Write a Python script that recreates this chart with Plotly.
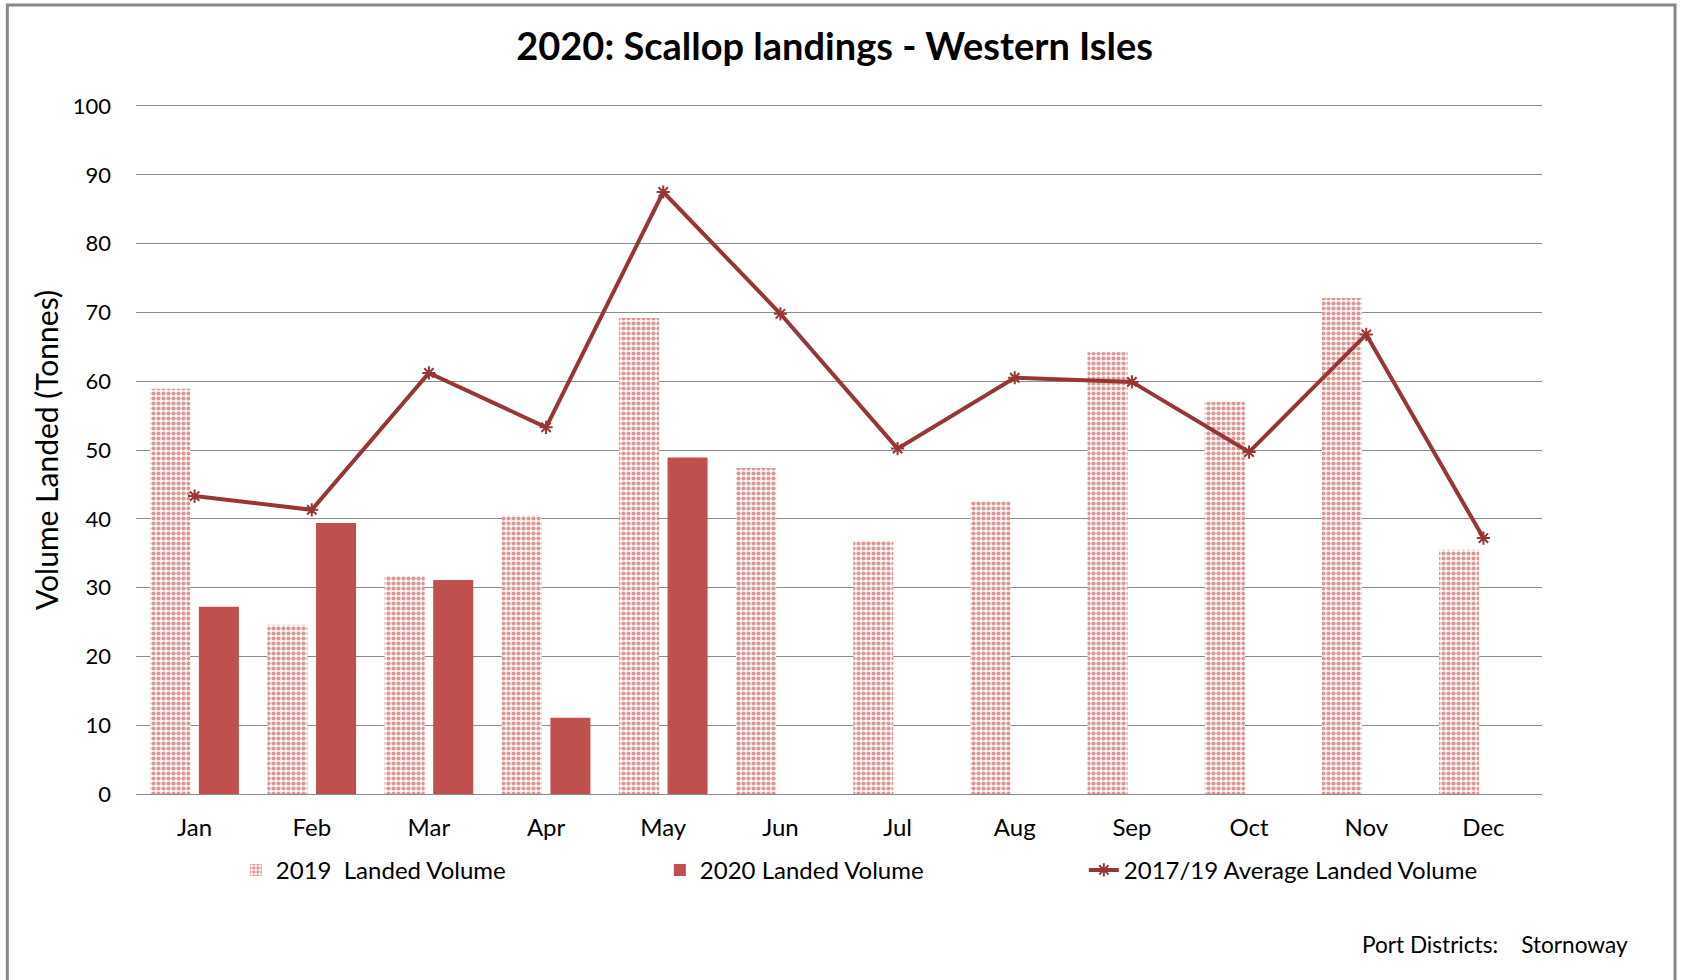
import plotly.graph_objects as go

FONT = "Lato"

months = ["Jan", "Feb", "Mar", "Apr", "May", "Jun",
          "Jul", "Aug", "Sep", "Oct", "Nov", "Dec"]
landed_2019 = [58.9, 24.6, 31.7, 40.5, 69.2, 47.4, 36.8, 42.5, 64.2, 57.0, 72.1, 35.5]
landed_2020 = [27.2, 39.4, 31.1, 11.1, 48.9, None, None, None, None, None, None, None]
avg_2017_19 = [43.3, 41.3, 61.2, 53.3, 87.5, 69.8, 50.2, 60.5, 59.9, 49.7, 66.8, 37.2]

fig = go.Figure()

# 2019 bars, checkered
fig.add_trace(go.Bar(
    x=months, y=landed_2019,
    name="2019  Landed Volume",
    marker=dict(
        color="white",
        line=dict(width=0),
        pattern=dict(shape=".", fgcolor="#DE9492", bgcolor="white",
                     size=5, solidity=0.55, fillmode="replace"),
    ),
))

# 2020 bars
fig.add_trace(go.Bar(
    x=months, y=landed_2020,
    name="2020 Landed Volume",
    marker=dict(color="#C0504D", line=dict(width=0)),
))

# 3-year average line
fig.add_trace(go.Scatter(
    x=months, y=avg_2017_19,
    name="2017/19 Average Landed Volume",
    mode="lines+markers",
    line=dict(color="#973634", width=4),
    marker=dict(symbol="asterisk-open", size=11,
                line=dict(color="#C0504D", width=2)),
))

# outer frame
fig.add_shape(type="rect", xref="paper", yref="paper",
              x0=-0.0915, x1=1.0946, y0=-0.30, y1=1.1468,
              line=dict(color="#878787", width=3), fillcolor="rgba(0,0,0,0)",
              layer="below")

fig.add_annotation(
    text="Port Districts:    Stornoway",
    xref="paper", yref="paper", x=1.0625, y=-0.219,
    xanchor="right", yanchor="middle", showarrow=False,
    font=dict(family=FONT, size=22.6, color="#000000"),
)

fig.update_layout(
    width=1681, height=980,
    margin=dict(l=136, r=139, t=106, b=186),
    title=dict(
        text="<b>2020: Scallop landings - Western Isles</b>",
        x=0.4965, xanchor="center", y=0.952, yanchor="middle",
        font=dict(family=FONT, size=38, color="#000000"),
    ),
    barmode="group",
    bargap=0.17,
    bargroupgap=0.177,
    plot_bgcolor="white",
    paper_bgcolor="white",
    font=dict(family=FONT, color="#000000"),
    showlegend=True,
    legend=dict(
        orientation="h",
        x=0.071, xanchor="left",
        y=-0.111, yanchor="middle",
        font=dict(family=FONT, size=24),
        entrywidth=379, entrywidthmode="pixels",
        traceorder="normal",
    ),
    xaxis=dict(
        range=[-0.5, 11.5],
        showgrid=False,
        showline=True, mirror=True, linecolor="#8C8C8C", linewidth=1,
        ticks="",
        tickfont=dict(family=FONT, size=24),
        ticklabelstandoff=12,
        automargin=False,
    ),
    yaxis=dict(
        range=[0, 100],
        dtick=10,
        showgrid=True, gridcolor="#8C8C8C", gridwidth=1,
        zeroline=False,
        showline=False,
        ticks="",
        tickfont=dict(family=FONT, size=22),
        ticklabelstandoff=24,
        automargin=False,
        title=dict(text="Volume Landed (Tonnes)",
                   font=dict(family=FONT, size=30), standoff=5),
    ),
)

fig.write_html("out.html", config={"displayModeBar": False},
               post_script="document.body.style.margin='0';")
